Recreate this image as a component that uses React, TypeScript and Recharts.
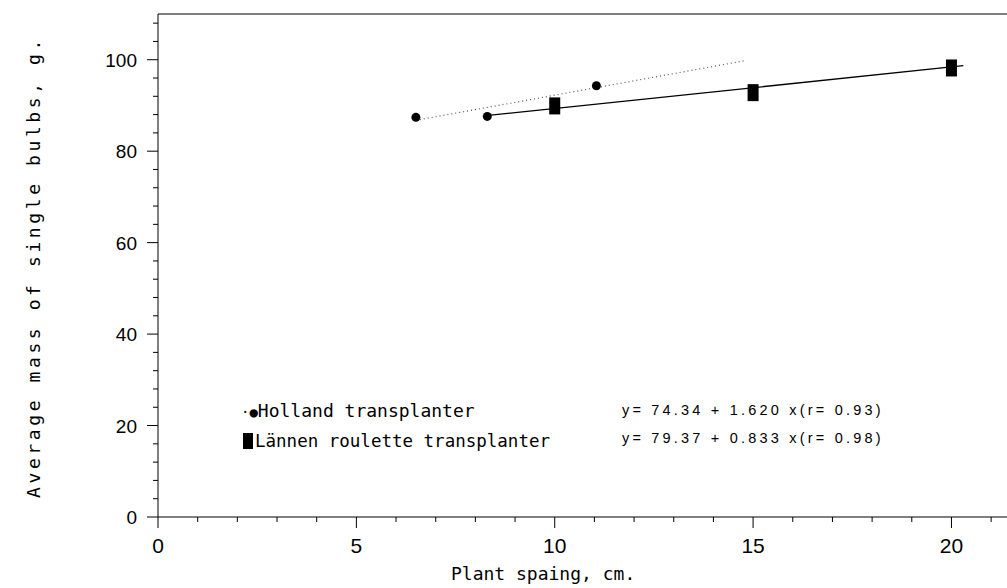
import React from 'react';
import { ComposedChart, XAxis, YAxis, Scatter, Line, ReferenceLine } from 'recharts';

// observed points
const hollandX = [6.5, 8.3, 11.05];
const hollandY = [87.4, 87.6, 94.3];
const lannenX = [10, 15, 20];
const lannenY = [89.9, 92.8, 98.2];

// fitted lines (end points)
const hollandFitX = [6.6, 14.8];
const hollandFitY = [86.9, 99.8];
const lannenFitX = [8.2, 20.3];
const lannenFitY = [87.7, 98.7];

const xTicks = [0, 1, 2, 3, 4, 5, 6, 7, 8, 9, 10, 11, 12, 13, 14, 15, 16, 17, 18, 19, 20, 21];
const yTicks = [0, 4, 8, 12, 16, 20, 24, 28, 32, 36, 40, 44, 48, 52, 56, 60, 64, 68, 72, 76, 80, 84, 88, 92, 96, 100, 104, 108];

const hollandEq = 'y= 74.34 + 1.620 x(r= 0.93)';
const lannenEq = 'y= 79.37 + 0.833 x(r= 0.98)';

const zip = (xs: number[], ys: number[]) => xs.map((x, i) => ({ x, y: ys[i] }));

const W = 1007;
const H = 588;
const LEFT = 158;
const TOP = 14;
const BOTTOM = 71;
const AXIS_Y = H - BOTTOM;

const mono = "'DejaVu Sans Mono', monospace";
const sans = "'Liberation Sans', Arial, sans-serif";

const XTick = (props: any) => {
  const { x, payload } = props;
  const major = payload.value % 5 === 0;
  return (
    <g>
      <line x1={x} x2={x} y1={AXIS_Y} y2={AXIS_Y + (major ? 11 : 5)} stroke="#000" strokeWidth={1} />
      {major && (
        <text x={x} y={AXIS_Y + 36} textAnchor="middle" fontSize={21} fontFamily="'Liberation Sans Narrow', 'Liberation Sans', sans-serif" fill="#000">
          {payload.value}
        </text>
      )}
    </g>
  );
};

const YTick = (props: any) => {
  const { y, payload } = props;
  const major = payload.value % 20 === 0;
  return (
    <g>
      <line x1={LEFT} x2={LEFT - (major ? 11 : 5)} y1={y} y2={y} stroke="#000" strokeWidth={1} />
      {major && (
        <text x={LEFT - 21} y={y + 7} textAnchor="end" fontSize={19} fontFamily={sans} fill="#000">
          {payload.value}
        </text>
      )}
    </g>
  );
};

const Dot = (props: any) => <circle cx={props.cx} cy={props.cy} r={4.5} fill="#000" />;
const Block = (props: any) => <rect x={props.cx - 5.5} y={props.cy - 8.5} width={11} height={17} fill="#000" />;

export default function App() {
  return (
    <div style={{ position: 'absolute', left: 0, top: 0, width: W, height: H, background: '#fff' }}>
      <ComposedChart width={W} height={H} margin={{ top: TOP, right: 0, bottom: 0, left: 0 }}>
        <XAxis
          type="number"
          dataKey="x"
          domain={[0, 21.4]}
          ticks={xTicks}
          interval={0}
          tickLine={false}
          tick={<XTick />}
          height={BOTTOM}
          stroke="#000"
          allowDataOverflow
        />
        <YAxis
          type="number"
          dataKey="y"
          domain={[0, 110]}
          ticks={yTicks}
          interval={0}
          tickLine={false}
          tick={<YTick />}
          width={LEFT}
          stroke="#000"
          allowDataOverflow
        />
        <ReferenceLine y={110} stroke="#000" strokeWidth={1} />
        <Line data={zip(hollandFitX, hollandFitY)} dataKey="y" stroke="#555" strokeWidth={1.2} strokeDasharray="1 3" dot={false} isAnimationActive={false} />
        <Line data={zip(lannenFitX, lannenFitY)} dataKey="y" stroke="#000" strokeWidth={1.3} dot={false} isAnimationActive={false} />
        <Scatter data={zip(hollandX, hollandY)} dataKey="y" shape={<Dot />} isAnimationActive={false} />
        <Scatter data={zip(lannenX, lannenY)} dataKey="y" shape={<Block />} isAnimationActive={false} />
      </ComposedChart>

      {/* in-plot legend */}
      <div style={{ position: 'absolute', left: 241, top: 400, fontFamily: mono, fontSize: 18, whiteSpace: 'pre', color: '#000' }}>
        <span style={{ fontSize: 14 }}>·●</span>Holland transplanter
      </div>
      <div style={{ position: 'absolute', left: 243, top: 431, fontFamily: mono, fontSize: 17.5, whiteSpace: 'pre', color: '#000', display: 'flex', alignItems: 'center' }}>
        <span style={{ display: 'inline-block', width: 10, height: 16, background: '#000', marginRight: 2 }} />
        <span>Lännen roulette transplanter</span>
      </div>
      <div style={{ position: 'absolute', left: 622, top: 402, fontFamily: sans, fontSize: 14.5, letterSpacing: 3.2, whiteSpace: 'pre', color: '#000' }}>
        {hollandEq}
      </div>
      <div style={{ position: 'absolute', left: 622, top: 430, fontFamily: sans, fontSize: 14.5, letterSpacing: 3.2, whiteSpace: 'pre', color: '#000' }}>
        {lannenEq}
      </div>

      {/* axis titles */}
      <div style={{ position: 'absolute', left: 451, top: 563, fontFamily: mono, fontSize: 18, whiteSpace: 'pre', color: '#000' }}>
        Plant spaing, cm.
      </div>
      <div
        style={{
          position: 'absolute',
          left: 33,
          top: 267,
          transform: 'translate(-50%, -50%) rotate(-90deg)',
          fontFamily: mono,
          fontSize: 18,
          letterSpacing: 3.6,
          whiteSpace: 'pre',
          color: '#000',
        }}
      >
        Average mass of single bulbs, g.
      </div>
    </div>
  );
}
